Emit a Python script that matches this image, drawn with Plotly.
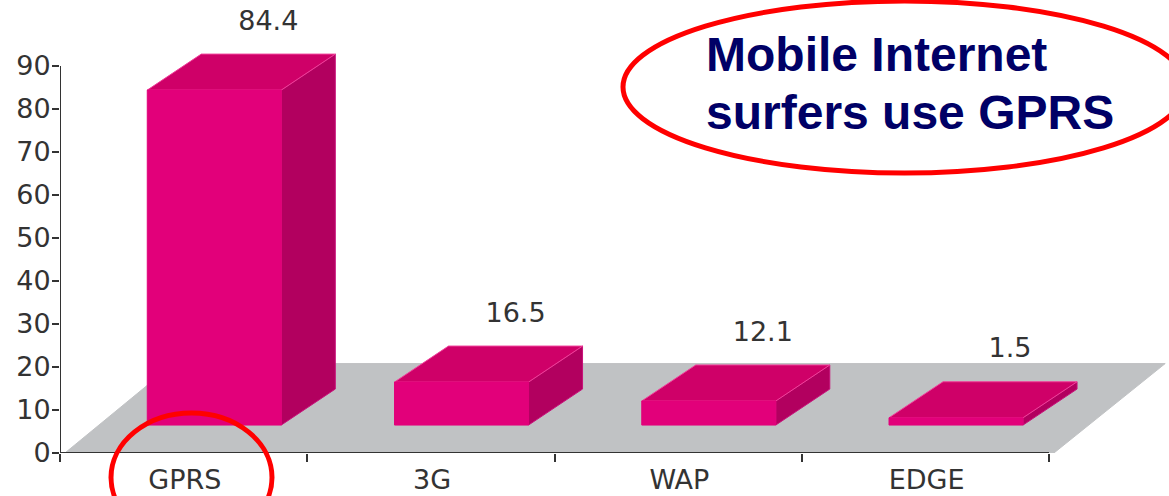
import plotly.graph_objects as go

categories = ["GPRS", "3G", "WAP", "EDGE"]
values = [84.4, 16.5, 12.1, 1.5]
value_labels = ["84.4", "16.5", "12.1", "1.5"]
y_ticks = [0, 10, 20, 30, 40, 50, 60, 70, 80, 90]

W, H = 1169, 496
L, R, T, B = 60, 0, 0, 43
X_UNIT = 247.25
Y_UNIT = 4.3
X_MAX = (W - L - R) / X_UNIT
Y_MAX = (H - T - B) / Y_UNIT
PW, PH = W - L - R, H - T - B

# 3D look of the chart, in axis units
BAR_LEFT = 0.353
BAR_WIDTH = 0.542
BASE = 6.5
MIN_HEIGHT = 1.7
DEPTH_X = 54 / X_UNIT
DEPTH_Y = 36 / Y_UNIT

FLOOR_TOP = 20.8
FLOOR_X = [0.02, 4.02, 4.47, 0.46, 0.02]
FLOOR_Y = [0, 0, FLOOR_TOP, FLOOR_TOP, 0]

front_x, front_y, top_x, top_y, side_x, side_y = [], [], [], [], [], []
label_x, label_y = [], []
for i, v in enumerate(values):
    x0 = i + BAR_LEFT
    x1 = x0 + BAR_WIDTH
    y1 = max(v, BASE + MIN_HEIGHT)
    front_x += [x0, x1, x1, x0, x0, None]
    front_y += [BASE, BASE, y1, y1, BASE, None]
    top_x += [x0, x1, x1 + DEPTH_X, x0 + DEPTH_X, x0, None]
    top_y += [y1, y1, y1 + DEPTH_Y, y1 + DEPTH_Y, y1, None]
    side_x += [x1, x1 + DEPTH_X, x1 + DEPTH_X, x1, x1, None]
    side_y += [BASE, BASE + DEPTH_Y, y1 + DEPTH_Y, y1, BASE, None]
    label_x.append(x0 + (BAR_WIDTH + DEPTH_X) / 2 + 27 / X_UNIT)
    label_y.append(y1 + DEPTH_Y + 31 / Y_UNIT)


def poly(xs, ys, fill, line=None):
    return go.Scatter(
        x=xs, y=ys, mode="lines", fill="toself", fillcolor=fill,
        line=dict(color=line or fill, width=1),
        hoverinfo="skip", showlegend=False, cliponaxis=False,
    )


def axis_line(xs, ys):
    return go.Scatter(
        x=xs, y=ys, mode="lines", line=dict(color="#333333", width=2),
        hoverinfo="skip", showlegend=False, cliponaxis=False,
    )


fig = go.Figure()
fig.add_trace(poly(FLOOR_X, FLOOR_Y, "#C0C2C4"))
fig.add_trace(poly(side_x, side_y, "#B2005F", "#C8107A"))
fig.add_trace(poly(top_x, top_y, "#CF0068", "#F0409A"))
fig.add_trace(poly(front_x, front_y, "#E2007A", "#E2007A"))
fig.add_trace(axis_line([0, 4], [0, 0]))
fig.add_trace(axis_line([0, 0], [0, 90]))
fig.add_trace(go.Scatter(
    x=label_x, y=label_y, mode="text", text=value_labels,
    textposition="middle center",
    textfont=dict(family="DejaVu Sans", size=27, color="#333333"),
    hoverinfo="skip", showlegend=False, cliponaxis=False,
))


def px(x):
    return (x - L) / PW


def py(y):
    return (H - B - y) / PH


shapes = [
    dict(type="circle", xref="paper", yref="paper",
         x0=px(623), x1=px(1186), y0=py(173), y1=py(1),
         line=dict(color="#FF0000", width=5), layer="above"),
    dict(type="circle", xref="paper", yref="paper",
         x0=px(111), x1=px(272), y0=py(542), y1=py(413),
         line=dict(color="#FF0000", width=5), layer="above"),
]

annotations = [
    dict(text="<b>Mobile Internet</b>", xref="paper", yref="paper",
         x=px(704), y=py(54), xanchor="left", yanchor="middle", showarrow=False,
         font=dict(family="Liberation Sans", size=48, color="#000066")),
    dict(text="<b>surfers use GPRS</b>", xref="paper", yref="paper",
         x=px(704), y=py(112), xanchor="left", yanchor="middle", showarrow=False,
         font=dict(family="Liberation Sans", size=48, color="#000066")),
]

fig.update_layout(
    width=W, height=H,
    margin=dict(l=L, r=R, t=T, b=B, pad=0),
    paper_bgcolor="white", plot_bgcolor="white",
    showlegend=False,
    shapes=shapes, annotations=annotations,
    xaxis=dict(
        range=[0, X_MAX], tickmode="array", automargin=False,
        tickvals=[i + 0.505 for i in range(len(categories))],
        ticktext=categories, ticks="", showgrid=False, zeroline=False,
        showline=False,
        tickfont=dict(family="DejaVu Sans", size=27, color="#333333"),
        ticklabelstandoff=8,
        minor=dict(tickmode="array", tickvals=[0, 1, 2, 3, 4], ticks="outside",
                   ticklen=8, tickwidth=2, tickcolor="#333333", showgrid=False),
    ),
    yaxis=dict(
        range=[0, Y_MAX], tickmode="array", tickvals=y_ticks, automargin=False,
        ticks="outside", ticklen=7, tickwidth=2, tickcolor="#333333",
        showgrid=False, zeroline=False, showline=False,
        ticklabelstandoff=-4,
        tickfont=dict(family="DejaVu Sans", size=27, color="#333333"),
    ),
)

fig.write_html(
    "out.html",
    config={"displayModeBar": False},
    post_script="document.body.style.margin='0';document.documentElement.style.overflow='hidden';",
)
